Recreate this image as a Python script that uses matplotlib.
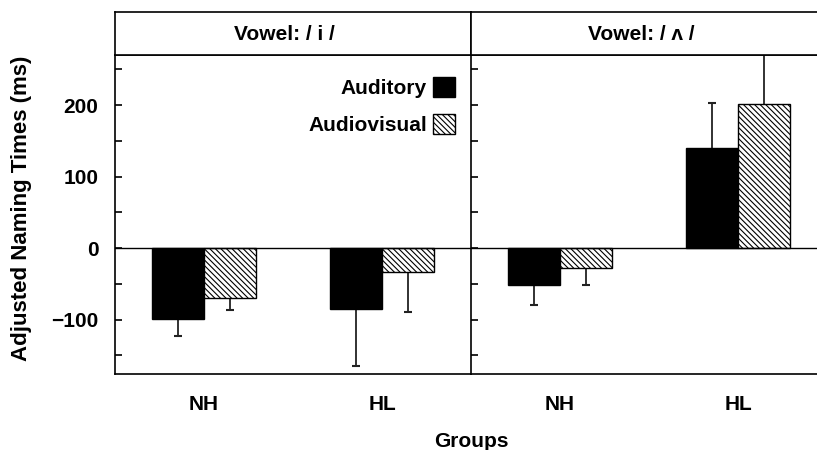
import numpy as np
import matplotlib
matplotlib.use('Agg')
import matplotlib.pyplot as plt
from matplotlib.patches import Patch

plt.rcParams['font.family'] = ['Liberation Sans', 'DejaVu Sans']
plt.rcParams['font.weight'] = 'bold'
plt.rcParams['hatch.linewidth'] = 0.8

# Daten
groups = ['NH', 'HL']
panel_titles = ['Vowel: / i /', 'Vowel: / \u028c /']
aud_mean = [[-99, -85], [-52, 140]]
aud_err = [[24, 80], [28, 63]]
av_mean = [[-70, -34], [-28, 202]]
av_err = [[17, 55], [24, 110]]
series_names = ['Auditory', 'Audiovisual']

W, H = 817, 450
fig = plt.figure(figsize=(W / 100, H / 100), dpi=100)

def fx(px):
    return px / W

def fy(py):
    return 1 - py / H

panel_left = [115, 471]
panel_w = 356
top_px, bot_px, head_px = 55, 374, 12
FS = 15

x = np.array([0.5, 1.5])
bw = 0.29
cap = 0.024
HATCH = '\\' * 6

def draw_err(ax, xs, means, errs):
    for xi, m, e in zip(xs, means, errs):
        end = m - e if m < 0 else m + e
        ax.vlines(xi, m, end, color='#222222', lw=1.3, zorder=1)
        ax.hlines(end, xi - cap, xi + cap, color='#222222', lw=1.5, zorder=1)

for p in range(2):
    ax = fig.add_axes([fx(panel_left[p]), fy(bot_px), fx(panel_w), (bot_px - top_px) / H])
    ax.set_xlim(0, 2)
    ax.set_ylim(-176, 270)

    draw_err(ax, x - bw / 2, aud_mean[p], aud_err[p])
    draw_err(ax, x + bw / 2, av_mean[p], av_err[p])
    ax.bar(x - bw / 2, aud_mean[p], bw, color='black', edgecolor='black', lw=1, zorder=2)
    ax.bar(x + bw / 2, av_mean[p], bw, color='white', edgecolor='black',
           hatch=HATCH, lw=1, zorder=2)
    ax.axhline(0, color='black', lw=1, zorder=3)

    ax.set_xticks(x)
    ax.set_xticklabels(groups, fontsize=FS, fontweight='bold')
    ax.tick_params(axis='x', length=0, pad=15)
    ax.set_yticks(np.arange(-150, 300, 50), minor=True)
    ax.set_yticks([-100, 0, 100, 200])
    ax.tick_params(axis='y', which='both', direction='in', length=5, width=1.2, pad=12)
    if p == 0:
        ax.set_yticklabels(['\u2212100', '0', '100', '200'], fontsize=FS, fontweight='bold')
        ax.spines['right'].set_visible(False)
    else:
        ax.set_yticklabels([])
    for s in ax.spines.values():
        s.set_linewidth(1.2)

    # Kopfzeile
    hax = fig.add_axes([fx(panel_left[p]), fy(top_px), fx(panel_w), (top_px - head_px) / H])
    hax.set_xticks([])
    hax.set_yticks([])
    for s in hax.spines.values():
        s.set_linewidth(1.2)
    hax.text(0.477, 0.48, panel_titles[p], ha='center', va='center', fontsize=FS,
             fontweight='bold', transform=hax.transAxes)

    if p == 0:
        handles = [Patch(facecolor='black', edgecolor='black'),
                   Patch(facecolor='white', edgecolor='black', hatch=HATCH)]
        ax.legend(handles, series_names, loc='upper right', frameon=False, fontsize=FS,
                  markerfirst=False, handlelength=1.05, handleheight=1.1, handletextpad=0.3,
                  labelspacing=0.75, borderpad=0, borderaxespad=0,
                  bbox_to_anchor=(0.955, 0.93))

fig.text(fx(22), fy(208), 'Adjusted Naming Times (ms)', rotation=90, ha='center',
         va='center', fontsize=16, fontweight='bold')
fig.text(fx(471), fy(432), 'Groups', ha='center', va='top', fontsize=FS, fontweight='bold')

fig.savefig('out.png', dpi=100)
